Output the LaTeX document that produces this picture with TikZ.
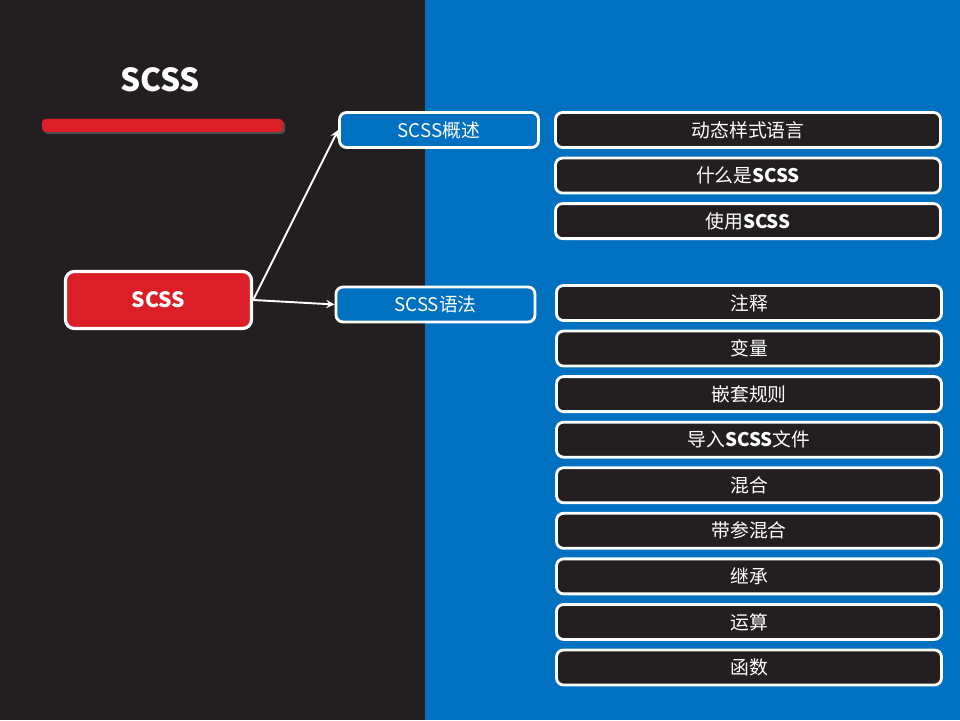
\documentclass[tikz,border=0pt]{standalone}
\usepackage{fontspec}
\setmainfont{Noto Sans CJK SC}
\usepackage{xcolor}
\usetikzlibrary{arrows,positioning,calc}

\definecolor{darkbg}{HTML}{231F20}
\definecolor{bluebg}{HTML}{0070C0}
\definecolor{scssred}{HTML}{DC1E26}

\begin{document}
\begin{tikzpicture}[node distance=0.155cm, auto,
    topic/.style={rectangle, rounded corners=5pt, draw=white, line width=1.8pt, fill=scssred, text=white, minimum width=3.72cm, minimum height=1.14cm, font=\fontsize{12}{14}\selectfont\bfseries},
    part/.style={rectangle, rounded corners=4pt, draw=white, line width=1.6pt, fill=bluebg, text=white, minimum width=3.98cm, minimum height=0.7cm, font=\fontsize{10.7}{13}\selectfont},
    item/.style={rectangle, rounded corners=4pt, draw=white, line width=1.6pt, fill=darkbg, text=white, minimum width=7.7cm, minimum height=0.7cm, font=\fontsize{10.7}{13}\selectfont},
    arrow/.style={->, >=stealth, line width=1.1pt, white}]

    % background
    \fill[darkbg] (0,0) rectangle (8.5,14.4);
    \fill[bluebg] (8.5,0) rectangle (19.2,14.4);
    \useasboundingbox (0,0) rectangle (19.2,14.4);

    % title and bar
    \node[text=white, font=\fontsize{18}{22}\selectfont\bfseries] (title) at (3.2,12.8) {SCSS};
    \fill[black!70, rounded corners=2pt] (0.88,11.72) rectangle (5.70,11.98);
    \fill[scssred, rounded corners=2pt] (0.84,11.76) rectangle (5.66,12.02);

    \node[topic] (scss) at (3.17,8.4) {SCSS};
    \node[part] (intro) at (8.78,11.8) {SCSS概述};
    \node[part] (syntax) at (8.71,8.31) {SCSS语法};

    % overview
    \node[item] (dynamic) at (14.96,11.8) {动态样式语言};
    \node[item, below=of dynamic] (what) {什么是\textbf{SCSS}};
    \node[item, below=of what] (use) {使用\textbf{SCSS}};

    % syntax
    \node[item] (comment) at (14.98,8.34) {注释};
    \node[item, below=of comment] (var) {变量};
    \node[item, below=of var] (nest) {嵌套规则};
    \node[item, below=of nest] (import) {导入\textbf{SCSS}文件};
    \node[item, below=of import] (mixin) {混合};
    \node[item, below=of mixin] (argmixin) {带参混合};
    \node[item, below=of argmixin] (extend) {继承};
    \node[item, below=of extend] (calc) {运算};
    \node[item, below=of calc] (func) {函数};

    \draw[arrow] (scss.east) -- (intro.west);
    \draw[arrow] (scss.east) -- (syntax.west);
\end{tikzpicture}
\end{document}
